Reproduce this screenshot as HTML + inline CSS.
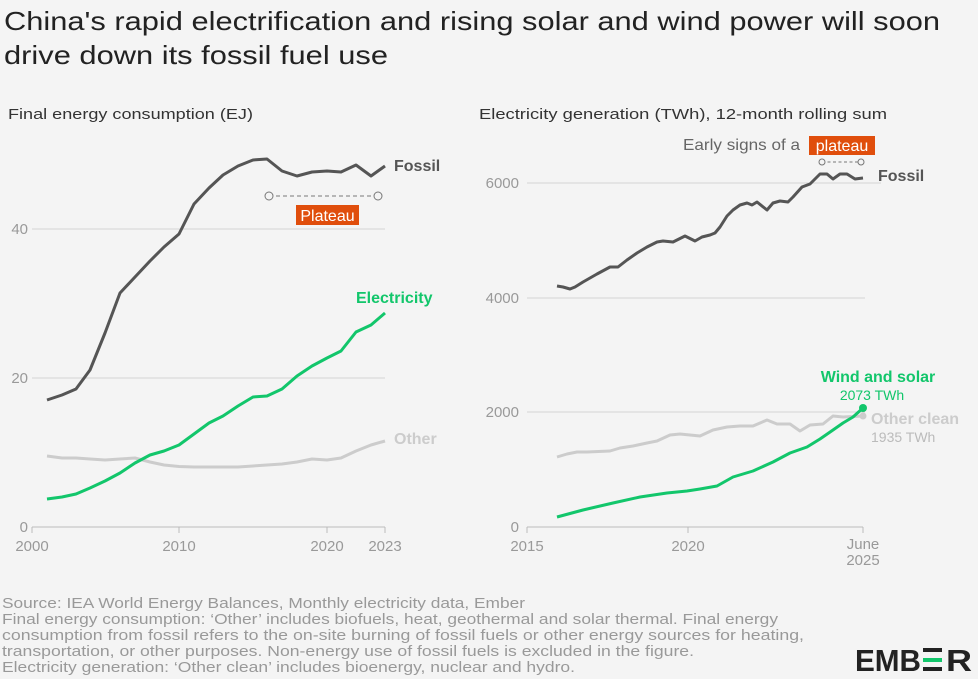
<!DOCTYPE html>
<html><head><meta charset="utf-8"><style>
html,body{margin:0;padding:0;background:#f4f4f4}
svg{display:block}
text{font-family:"Liberation Sans",sans-serif}
</style></head><body>
<svg width="978" height="679" viewBox="0 0 978 679" xmlns="http://www.w3.org/2000/svg">
<rect width="978" height="679" fill="#f4f4f4"/>
<text x="4" y="30" font-size="26" fill="#222" textLength="936" lengthAdjust="spacingAndGlyphs">China's rapid electrification and rising solar and wind power will soon</text>
<text x="4" y="64" font-size="26" fill="#222" textLength="384" lengthAdjust="spacingAndGlyphs">drive down its fossil fuel use</text>
<text x="8" y="119" font-size="15" fill="#333" textLength="245" lengthAdjust="spacingAndGlyphs">Final energy consumption (EJ)</text>
<text x="479" y="119" font-size="15" fill="#333" textLength="408" lengthAdjust="spacingAndGlyphs">Electricity generation (TWh), 12-month rolling sum</text>

<!-- LEFT CHART -->
<g stroke="#d4d4d4" stroke-width="1">
<line x1="32" y1="229" x2="385" y2="229"/><line x1="32" y1="378" x2="385" y2="378"/>
</g>
<line x1="32" y1="527" x2="385" y2="527" stroke="#bbb"/>
<g stroke="#bbb"><line x1="32" y1="527" x2="32" y2="533"/><line x1="179" y1="527" x2="179" y2="533"/><line x1="327" y1="527" x2="327" y2="533"/><line x1="385" y1="527" x2="385" y2="533"/></g>
<g font-size="15" fill="#999">
<text x="28" y="234" text-anchor="end">40</text>
<text x="28" y="383" text-anchor="end">20</text>
<text x="28" y="532" text-anchor="end">0</text>
<text x="32" y="551" text-anchor="middle">2000</text>
<text x="179" y="551" text-anchor="middle">2010</text>
<text x="327" y="551" text-anchor="middle">2020</text>
<text x="385" y="551" text-anchor="middle">2023</text>
</g>
<polyline fill="none" stroke="#cccccc" stroke-width="3" stroke-linejoin="round" points="47,456 62,458 76,458 90,459 105,460 120,459 135,458 150,462 164,465 179,466.5 194,467 209,467 223,467 238,467 253,466 267,465 282,464 297,462 312,459 327,460 341,458 356,451 371,445 385,441"/>
<polyline fill="none" stroke="#555" stroke-width="3" stroke-linejoin="round" points="47,400 62,395 76,389 90,370 105,333 120,293 135,277 150,261 164,247 179,234 194,204 209,188 223,175 238,166 253,160 267,159 282,171 297,176 312,172 327,171 341,172 356,165 371,176 385,166"/>
<polyline fill="none" stroke="#12c66b" stroke-width="3" stroke-linejoin="round" points="47,499 62,497 76,494 90,488 105,481 120,473 135,463 150,455 164,451 179,445 194,434 209,423 223,416 238,406 253,397 267,396 282,389 297,376 312,366 327,358 341,351 356,332 371,325 385,313"/>
<text x="394" y="171" font-size="16" font-weight="bold" fill="#555">Fossil</text>
<text x="356" y="303" font-size="16" font-weight="bold" fill="#12c66b">Electricity</text>
<text x="394" y="444" font-size="16" font-weight="bold" fill="#ccc">Other</text>
<line x1="269" y1="196" x2="378" y2="196" stroke="#777" stroke-dasharray="4,3"/>
<circle cx="269" cy="196" r="4" fill="#f4f4f4" stroke="#777"/>
<circle cx="378" cy="196" r="4" fill="#f4f4f4" stroke="#777"/>
<rect x="296" y="205" width="63" height="20" fill="#e04e0c"/>
<text x="327.5" y="221" font-size="16" fill="#fff" text-anchor="middle">Plateau</text>

<!-- RIGHT CHART -->
<g stroke="#d4d4d4">
<line x1="527" y1="183" x2="881" y2="183"/><line x1="527" y1="298" x2="865" y2="298"/><line x1="527" y1="412" x2="865" y2="412"/>
</g>
<line x1="527" y1="527" x2="863" y2="527" stroke="#bbb"/>
<g stroke="#bbb"><line x1="527" y1="527" x2="527" y2="533"/><line x1="688" y1="527" x2="688" y2="533"/><line x1="863" y1="527" x2="863" y2="533"/></g>
<g font-size="15" fill="#999">
<text x="519" y="188" text-anchor="end">6000</text>
<text x="519" y="303" text-anchor="end">4000</text>
<text x="519" y="417" text-anchor="end">2000</text>
<text x="519" y="532" text-anchor="end">0</text>
<text x="527" y="551" text-anchor="middle">2015</text>
<text x="688" y="551" text-anchor="middle">2020</text>
<text x="863" y="549" text-anchor="middle">June</text>
<text x="863" y="565" text-anchor="middle">2025</text>
</g>
<polyline fill="none" stroke="#cccccc" stroke-width="3" stroke-linejoin="round" points="557,457 567,454 577,452 587,452 610,451 620,448 633,446 647,443 657,441 670,435 680,434 700,436 713,430 727,427 740,426 753,426 767,420 777,424 790,424 800,431 810,425 823,424 833,416 843,417 863,416"/>
<polyline fill="none" stroke="#555" stroke-width="3" stroke-linejoin="round" points="557,286 563,287 570,289 575,287 583,282 597,274 610,267 618,267 627,260 637,253 647,247 657,242 663,241 673,242 685,236 695,241 702,237 710,235 715,233 720,227 727,216 733,210 740,205 747,203 752,205 757,202 767,210 773,203 780,201 788,202 793,197 802,187 810,184 820,174 827,174 833,179 840,174 847,174 855,179 863,178"/>
<polyline fill="none" stroke="#12c66b" stroke-width="3" stroke-linejoin="round" points="557,517 583,510 613,503 640,497 667,493 687,491 700,489 717,486 733,477 753,471 773,462 790,453 807,447 820,439 833,430 843,423 853,417 863,408"/>
<circle cx="863" cy="408" r="4" fill="#12c66b"/>
<circle cx="863" cy="416" r="3.5" fill="#ccc"/>
<text x="878" y="181" font-size="16" font-weight="bold" fill="#555">Fossil</text>
<text x="878" y="382" font-size="16" font-weight="bold" fill="#12c66b" text-anchor="middle">Wind and solar</text>
<text x="872" y="400" font-size="14" fill="#12c66b" text-anchor="middle">2073 TWh</text>
<text x="871" y="424" font-size="16" font-weight="bold" fill="#ccc">Other clean</text>
<text x="871" y="442" font-size="14" fill="#bbb">1935 TWh</text>
<text x="683" y="150" font-size="16" fill="#666" textLength="117" lengthAdjust="spacingAndGlyphs">Early signs of a</text>
<rect x="809" y="136" width="66" height="19" fill="#e04e0c"/>
<text x="842" y="151" font-size="16" fill="#fff" text-anchor="middle">plateau</text>
<line x1="822" y1="162" x2="861" y2="162" stroke="#777" stroke-dasharray="3,2.5"/>
<circle cx="822" cy="162" r="3" fill="#f4f4f4" stroke="#777"/>
<circle cx="861" cy="162" r="3" fill="#f4f4f4" stroke="#777"/>

<!-- FOOTER -->
<g font-size="15" fill="#999">
<text x="2" y="608" textLength="523" lengthAdjust="spacingAndGlyphs">Source: IEA World Energy Balances, Monthly electricity data, Ember</text>
<text x="2" y="624" textLength="776" lengthAdjust="spacingAndGlyphs">Final energy consumption: ‘Other’ includes biofuels, heat, geothermal and solar thermal. Final energy</text>
<text x="2" y="640" textLength="802" lengthAdjust="spacingAndGlyphs">consumption from fossil refers to the on-site burning of fossil fuels or other energy sources for heating,</text>
<text x="2" y="656" textLength="692" lengthAdjust="spacingAndGlyphs">transportation, or other purposes. Non-energy use of fossil fuels is excluded in the figure.</text>
<text x="2" y="672" textLength="573" lengthAdjust="spacingAndGlyphs">Electricity generation: ‘Other clean’ includes bioenergy, nuclear and hydro.</text>
</g>
<g font-size="31" font-weight="bold" fill="#222">
<text x="855" y="671" textLength="66" lengthAdjust="spacingAndGlyphs">EMB</text>
<text x="946" y="671" textLength="26" lengthAdjust="spacingAndGlyphs">R</text>
</g>
<rect x="923" y="648" width="19" height="4" fill="#222"/>
<rect x="923" y="658" width="19" height="4" fill="#12c66b"/>
<rect x="923" y="667" width="19" height="4" fill="#222"/>
</svg>
</body></html>
